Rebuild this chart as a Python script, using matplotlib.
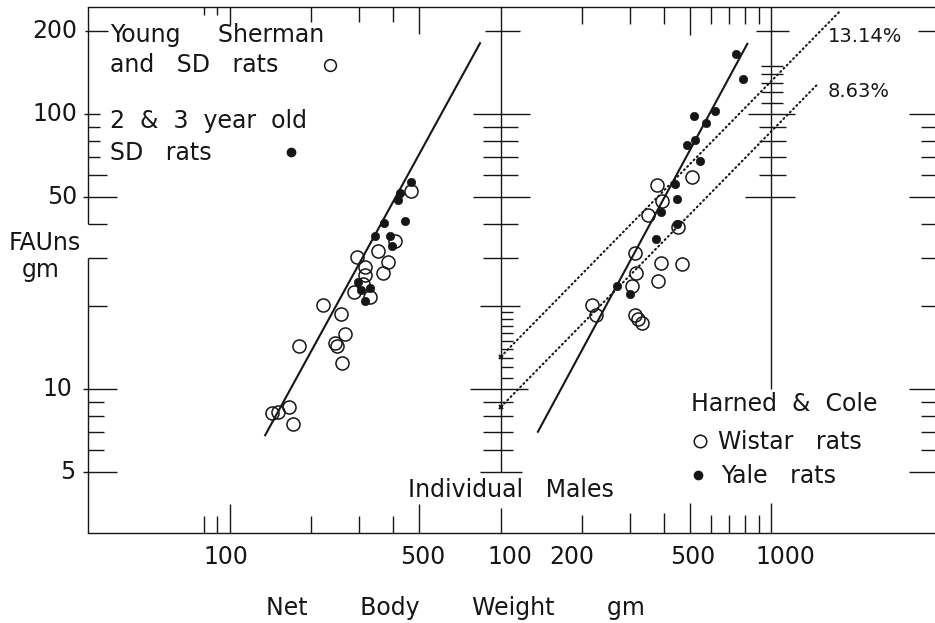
import numpy as np
import matplotlib.pyplot as plt

plt.rcParams['font.family'] = 'DejaVu Sans'
INK = '#161616'
PT = 0.72          # points per pixel at 100 dpi
FS = 17

# --- left panel: Young Sherman and SD rats (open), 2 & 3 year old SD rats (filled)
young_w = [466, 408, 351, 294, 384, 366, 316, 316, 311, 286, 330,
           221, 256, 266, 244, 249, 180, 259, 166, 143, 150, 171]
young_f = [52.5, 34.6, 31.7, 30.2, 29.0, 26.5, 27.8, 25.9, 24.1, 22.5, 21.6,
           20.3, 18.7, 15.9, 14.7, 14.3, 14.3, 12.4, 8.63, 8.19, 8.26, 7.48]
old_w = [466, 426, 417, 443, 369, 342, 390, 395, 297, 330, 305, 314]
old_f = [56.8, 51.8, 48.7, 40.8, 40.2, 35.9, 35.9, 33.1, 24.6, 23.4, 22.9, 20.9]
left_fit_w = [135, 837]
left_fit_f = [6.8, 181]

# --- right panel: Harned & Cole, Wistar rats (open), Yale rats (filled)
wistar_w = [510, 378, 394, 349, 452, 314, 391, 469, 381, 317, 306,
            218, 224, 313, 323, 332]
wistar_f = [59.2, 55.0, 48.3, 43.1, 38.7, 31.2, 28.7, 28.4, 24.7, 26.5, 23.8,
            20.3, 18.6, 18.6, 18.0, 17.4]
yale_w = [740, 790, 620, 520, 573, 524, 488, 546, 442, 447, 390, 449, 376, 269, 300]
yale_f = [166, 134, 103, 98.5, 92.5, 80.4, 77.2, 67.3, 55.5, 49.1, 44.0, 39.8,
          35.0, 23.7, 22.1]
right_fit_w = [137, 817]
right_fit_f = [7.0, 180]

# fat as a fixed percentage of body weight
pct_labels = ['13.14%', '8.63%']
pct_values = [13.14, 8.63]
pct_w_end = [1800, 1500]

y_ticks = [5, 10, 50, 100, 200]
y_tick_labels = ['5', '10', '50', '100', '200']
left_x_ticks = [100, 500]
right_x_ticks = [100, 200, 500, 1000]

fig = plt.figure(figsize=(9.35, 6.23), dpi=100)
fig.patch.set_facecolor('white')


def px(x, y):
    return x / 935, 1 - y / 623


axL = fig.add_axes([88 / 935, 90 / 623, 413 / 935, 526 / 623])
axR = fig.add_axes([501 / 935, 90 / 623, 436 / 935, 526 / 623])
YMIN, YMAX = 3, 245
RMAX = 10 ** (2 + 436 / 270)
for ax, xl in ((axL, (30, 1000)), (axR, (100, RMAX))):
    ax.set_xscale('log')
    ax.set_yscale('log')
    ax.set_xlim(*xl)
    ax.set_ylim(YMIN, YMAX)
    ax.set_facecolor('none')
    ax.tick_params(which='both', length=0, labelbottom=False, labelleft=False)
    ax.minorticks_off()
    ax.set_xticks([])
    ax.set_yticks([])
    for side in ('left', 'right'):
        ax.spines[side].set_visible(False)
    for side in ('top', 'bottom'):
        ax.spines[side].set_linewidth(1.0)
        ax.spines[side].set_color(INK)


def hticks(ax, x, ys, left=0, right=0):
    xs = [x] * len(ys)
    if left:
        ax.plot(xs, ys, ls='none', marker=0, ms=left * PT, mew=1.0, color=INK, clip_on=False)
    if right:
        ax.plot(xs, ys, ls='none', marker=1, ms=right * PT, mew=1.0, color=INK, clip_on=False)


def vticks(ax, xs, y, up=0, down=0):
    ys = [y] * len(xs)
    if up:
        ax.plot(xs, ys, ls='none', marker=2, ms=up * PT, mew=1.0, color=INK, clip_on=False)
    if down:
        ax.plot(xs, ys, ls='none', marker=3, ms=down * PT, mew=1.0, color=INK, clip_on=False)


# left frame line, broken where the y label sits
axL.vlines([30, 30], [YMIN, 40], [30, YMAX], color=INK, lw=1.0, clip_on=False)
hticks(axL, 30, [200], 3, 20)
hticks(axL, 30, [100], 4, 12)
hticks(axL, 30, [90, 80, 70], 0, 12)
hticks(axL, 30, [60, 40, 30, 20], 0, 19)
hticks(axL, 30, [50, 10, 5], 5, 29)
hticks(axL, 30, [9, 8, 7, 6], 0, 16)
vticks(axL, [80, 90, 200, 300, 400], YMIN, up=17)
vticks(axL, [100, 500], YMIN, up=29)
vticks(axL, [80, 90], YMAX, down=8)
vticks(axL, [200, 300, 400], YMAX, down=15)
vticks(axL, [100], YMAX, down=18)
vticks(axL, [500], YMAX, down=27)

# divider at 100 gm of the right scale
axR.vlines(100, 5, YMAX, color=INK, lw=1.0, clip_on=False)
hticks(axR, 100, [200], 16, 19)
hticks(axR, 100, [100, 50], 28, 29)
hticks(axR, 100, [90, 80, 70, 60, 40, 30], 18, 17)
hticks(axR, 100, [20], 21, 19)
hticks(axR, 100, list(range(11, 20)), 0, 12)
hticks(axR, 100, [10], 31, 27)
hticks(axR, 100, [9, 8, 7, 6], 18, 12)
hticks(axR, 100, [5], 21, 21)

# second divider at 1000 gm
axR.vlines(1000, 10, YMAX, color=INK, lw=1.0, clip_on=False)
hticks(axR, 1000, [200], 15, 18)
hticks(axR, 1000, [110, 120, 130, 140, 150], 10, 12)
hticks(axR, 1000, [100], 23, 24)
hticks(axR, 1000, [90, 80, 70, 60], 12, 15)
hticks(axR, 1000, [50], 26, 24)

# far right scale
hticks(axR, RMAX, [200], 19, 0)
hticks(axR, RMAX, [100, 50, 10, 5], 28, 0)
hticks(axR, RMAX, [90, 80, 70, 60, 40, 30, 20, 9, 8, 7, 6], 16, 0)

vticks(axR, [100], YMIN, up=25)
vticks(axR, [200, 600, 700, 800, 900], YMIN, up=18)
vticks(axR, [300, 400], YMIN, up=20)
vticks(axR, [500, 1000], YMIN, up=30)
vticks(axR, [200, 300, 400, 600, 700, 800, 900], YMAX, down=17)
vticks(axR, [500], YMAX, down=28)

# data
mk_open = dict(ls='none', marker='o', ms=9.4, mfc='none', mec=INK, mew=1.1)
mk_fill = dict(ls='none', marker='o', ms=6.0, mfc=INK, mec=INK, mew=0.5)

axL.plot(left_fit_w, left_fit_f, color=INK, lw=1.5)
axL.plot(young_w, young_f, **mk_open)
axL.plot(old_w, old_f, **mk_fill)

axR.plot(right_fit_w, right_fit_f, color=INK, lw=1.5)
axR.plot(wistar_w, wistar_f, **mk_open)
axR.plot(yale_w, yale_f, **mk_fill)

for lab, p, w_end in zip(pct_labels, pct_values, pct_w_end):
    w = np.array([100, w_end])
    axR.plot(w, w * p / 100, color=INK, lw=1.5, ls=(0, (0.5, 1.7)),
             dash_capstyle='round')
    axR.plot([100], [p], ls='none', marker='x', ms=3.5, mew=1.4, color=INK, clip_on=False)

# tick labels
for v, t in zip(y_ticks, y_tick_labels):
    dx = {'10': -16, '5': -13}.get(t, -11)
    axL.annotate(t, xy=(0, v), xycoords=('axes fraction', 'data'),
                 xytext=(dx * PT, 0), textcoords='offset points',
                 ha='right', va='center', fontsize=FS, color=INK)

for ax, vals, dxs in ((axL, left_x_ticks, [-4, 3]),
                      (axR, right_x_ticks, [9, -11, 3, 14])):
    for v, dx in zip(vals, dxs):
        ax.annotate(str(v), xy=(v, 0), xycoords=('data', 'axes fraction'),
                    xytext=(dx * PT, -31 * PT), textcoords='offset points',
                    ha='center', va='baseline', fontsize=FS, color=INK)

# text
def label(x, y, s, size=FS, ha='left'):
    fig.text(*px(x, y), s, fontsize=size, ha=ha, va='baseline', color=INK)


label(110, 42, 'Young     Sherman')
label(110, 72, 'and   SD   rats')
label(110, 128, '2  &  3  year  old')
label(110, 160, 'SD   rats')
label(9, 250, 'FAUns')
label(22, 277, 'gm')
label(828, 42, pct_labels[0], size=14)
label(828, 97, pct_labels[1], size=14)
label(408, 497, 'Individual   Males')
label(691, 411, 'Harned  &  Cole')
label(718, 449, 'Wistar   rats')
label(721, 483, 'Yale   rats')
label(266, 615, 'Net       Body       Weight       gm')

# legend symbols
fig.lines.extend([
    plt.Line2D([330 / 935], [1 - 65 / 623], transform=fig.transFigure,
               marker='o', ms=8.5, mfc='none', mec=INK, mew=1.1),
    plt.Line2D([291 / 935], [1 - 152 / 623], transform=fig.transFigure,
               marker='o', ms=6.0, mfc=INK, mec=INK),
    plt.Line2D([700 / 935], [1 - 441 / 623], transform=fig.transFigure,
               marker='o', ms=9.0, mfc='none', mec=INK, mew=1.1),
    plt.Line2D([698 / 935], [1 - 475 / 623], transform=fig.transFigure,
               marker='o', ms=6.0, mfc=INK, mec=INK),
])

fig.savefig('out.png', dpi=100, facecolor='white')
